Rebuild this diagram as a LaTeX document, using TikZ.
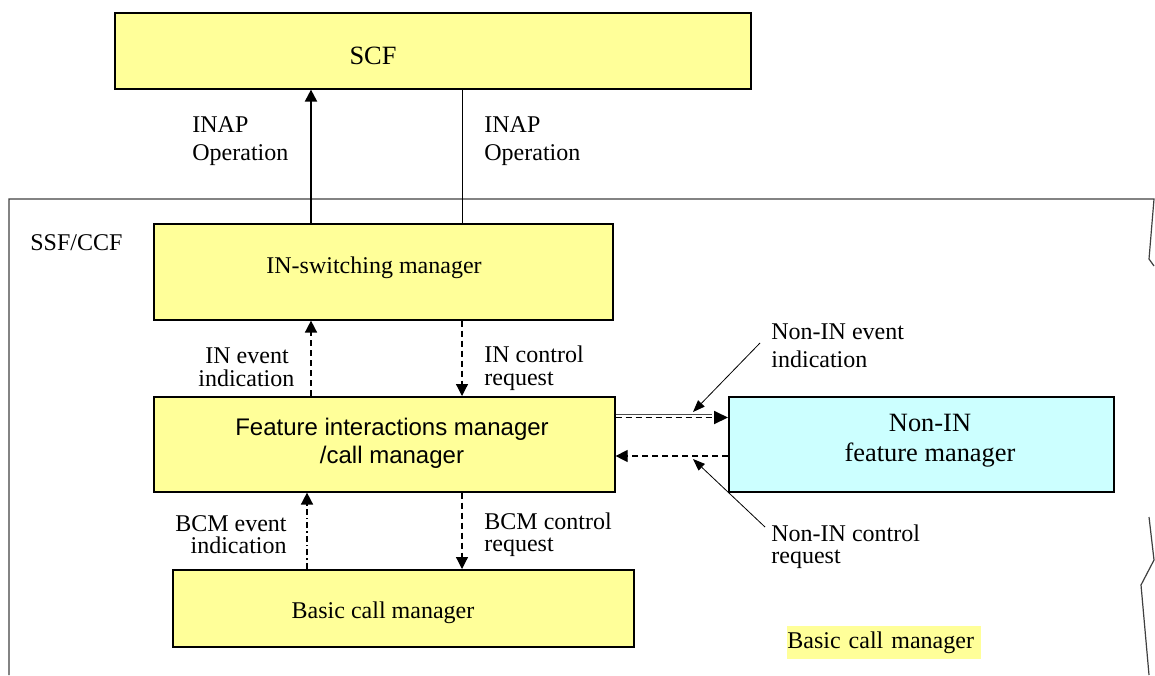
\documentclass[tikz,border=0pt]{standalone}
\usepackage{fontspec}
\setmainfont{Liberation Serif}
\newfontfamily\arialfont{Liberation Sans}
\usetikzlibrary{arrows.meta}
\definecolor{boxyellow}{HTML}{FFFF99}
\definecolor{boxcyan}{HTML}{CCFFFF}
\definecolor{framegray}{HTML}{404040}
\begin{document}
\begin{tikzpicture}[x=0.5pt,y=-0.5pt,
  box/.style={draw=black, line width=0.8pt, fill=boxyellow, inner sep=0pt, anchor=north west},
  txt/.style={font=\fontsize{12}{14}\selectfont, inner sep=0pt},
  arr/.style={-{Triangle[length=6pt,width=6pt]}, line width=0.6pt},
  thinline/.style={line width=0.5pt},
  dsh/.style={dash pattern=on 3pt off 2pt},
  dshdot/.style={dash pattern=on 3pt off 1.5pt on 0.8pt off 1.5pt},
  ptr/.style={-{Triangle[length=6pt,width=4.5pt]}, line width=0.4pt},
  frame/.style={draw=framegray, line width=0.6pt}
]
\useasboundingbox (0,0) rectangle (1155,675);

% outer SSF/CCF frame (cut off at right and bottom)
\draw[frame] (9,675) -- (9,199) -- (1154,199) -- (1149,259) -- (1154,266);
\draw[frame] (1149,517) -- (1154,560) -- (1141,585) -- (1149,675);

% boxes
\node[box, minimum width=318pt, minimum height=38pt] (scf) at (114,12) {};
\node[box, minimum width=229.5pt, minimum height=48pt] (ism) at (153,223) {};
\node[box, minimum width=230.5pt, minimum height=47.5pt] (fim) at (153,396) {};
\node[box, minimum width=230.5pt, minimum height=38.5pt] (bcm) at (172,569) {};
\node[box, fill=boxcyan, minimum width=192.5pt, minimum height=47.5pt] (nonin) at (728,396) {};

% box texts
\node[txt, font=\fontsize{13.2}{15}\selectfont] (scft) at (373,56) {SCF};
\node[txt] (ismt) at (374,268) {IN-switching manager};
\node[txt, font=\arialfont\fontsize{12}{14}\selectfont, align=center] (fimt) at (392,443) {Feature interactions manager\\/call manager};
\node[txt] (bcmt) at (383,613) {Basic call manager};
\node[txt, align=center, font=\fontsize{13.2}{15}\selectfont] (nonint) at (930,441) {Non-IN\\feature manager};

\node[txt, anchor=west] (ssf) at (30,243) {SSF/CCF};
\node[txt, anchor=north west, fill=boxyellow, text width=97pt, minimum height=16.5pt, align=left] (bcmlbl) at (787,626) {Basic call manager};

% labels
\node[txt, anchor=west, align=left] (inap1) at (192,141) {INAP\\Operation};
\node[txt, anchor=west, align=left] (inap2) at (484,141) {INAP\\Operation};
\node[txt, anchor=west, align=left, font=\fontsize{12}{11.5}\selectfont] (inev) at (198,367) {\hspace*{3.5pt}IN event\\indication};
\node[txt, anchor=west, align=left, font=\fontsize{12}{11.5}\selectfont] (inctl) at (484,368) {IN control\\request};
\node[txt, anchor=east, align=right, font=\fontsize{12}{11}\selectfont] (bcmev) at (287,535) {BCM event\\indication};
\node[txt, anchor=west, align=left, font=\fontsize{12}{11}\selectfont] (bcmctl) at (484,535) {BCM control\\request};
\node[txt, anchor=west, align=left] (niev) at (771,346) {Non-IN event\\indication};
\node[txt, anchor=west, align=left, font=\fontsize{12}{11}\selectfont] (nictl) at (771,547) {Non-IN control\\request};

% helper coordinates
\coordinate (xa) at (311,0);
\coordinate (xb) at (462,0);
\coordinate (xc) at (307,0);
\coordinate (ya) at (0,417.5);
\coordinate (yb) at (0,414.5);
\coordinate (yc) at (0,456);
\coordinate (dblend) at (712,414.5);
\coordinate (p1s) at (760,343);
\coordinate (p1e) at (693,412);
\coordinate (p2s) at (765,527);
\coordinate (p2e) at (693,459);

% connectors
\draw[arr, line width=1pt] (ism.north -| xa) -- (scf.south -| xa);
\draw[thinline] (scf.south -| xb) -- (ism.north -| xb);
\draw[arr, dsh, line width=0.8pt] (fim.north -| xa) -- (ism.south -| xa);
\draw[arr, dsh] (ism.south -| xb) -- (fim.north -| xb);
\draw[arr, dshdot, line width=0.8pt] (bcm.north -| xc) -- (fim.south -| xc);
\draw[arr, dsh] (fim.south -| xb) -- (bcm.north -| xb);

\draw[thinline, draw=black!70] (fim.east |- yb) -- (dblend);
\draw[-{Triangle[length=7pt,width=6.5pt]}, dsh, line width=0.9pt] (fim.east |- ya) -- (nonin.west |- ya);
\draw[arr, dsh] (nonin.west |- yc) -- (fim.east |- yc);

\draw[ptr] (p1s) -- (p1e);
\draw[ptr] (p2s) -- (p2e);
\end{tikzpicture}
\end{document}
